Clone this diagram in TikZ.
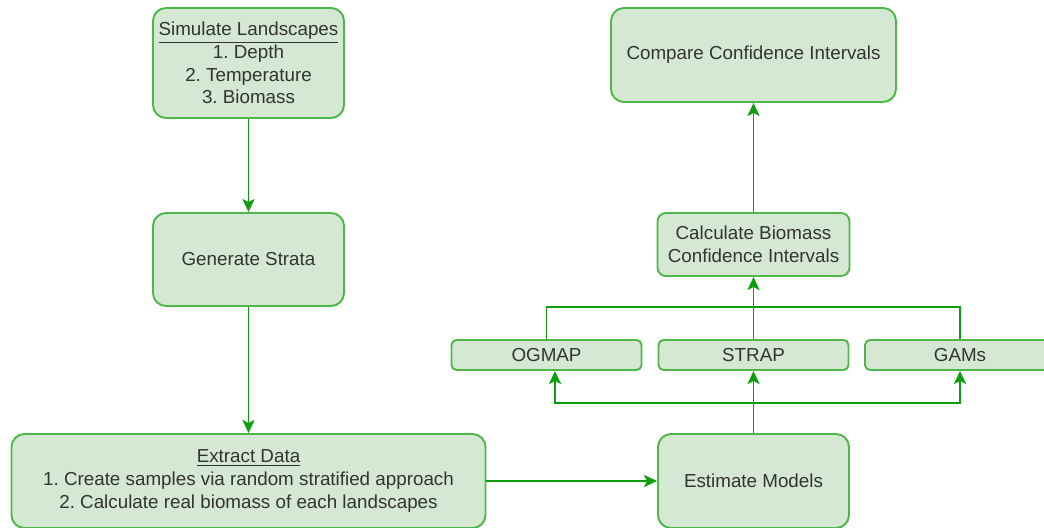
\documentclass[tikz,border=0pt]{standalone}
\usepackage{fontspec}
\setmainfont{Liberation Sans}
\usepackage{tikz}
\usetikzlibrary{arrows.meta, calc}
\definecolor{boxfill}{HTML}{D5E8D4}
\definecolor{boxline}{HTML}{4DB847}
\definecolor{flowcol}{HTML}{0C9E0C}
\definecolor{txtcol}{HTML}{333333}
\frenchspacing

\begin{document}
\begin{tikzpicture}[
    box/.style={draw=boxline, fill=boxfill, line width=1.1pt, rounded corners=0.26cm,
                inner sep=0pt, align=center, text=txtcol,
                font=\fontsize{10.7}{12.9}\selectfont},
    smallbox/.style={box, rounded corners=0.1cm, minimum width=3.8cm,
                     minimum height=0.6cm},
    flow/.style={-{Stealth[length=0.26cm, width=0.24cm, inset=0.06cm]},
                 line width=1.1pt, flowcol},
    bus/.style={line width=1.1pt, flowcol},
  ]

  \useasboundingbox (0,0) rectangle (20.88,10.54);

  % =========================================================
  %  LEFT COLUMN — landscapes, strata, data
  % =========================================================
  \node[box, minimum width=3.82cm, minimum height=2.2cm] (sim) at (4.97,9.28)
    {\underline{Simulate Landscapes}\\1. Depth\\2. Temperature\\3. Biomass};
  \node[box, minimum width=3.82cm, minimum height=1.86cm] (gen) at (4.97,5.35)
    {Generate Strata};
  \node[box, minimum width=9.48cm, minimum height=1.88cm] (ext) at (4.97,0.92)
    {\underline{Extract Data}\\1. Create samples via random stratified approach\\
     2. Calculate real biomass of each landscapes};

  \draw[flow] (sim) -- (gen);
  \draw[flow] (gen) -- (ext);

  % =========================================================
  %  RIGHT COLUMN — models and intervals
  % =========================================================
  \node[box, minimum width=3.82cm, minimum height=1.88cm] (est) at (15.07,0.92)
    {Estimate Models};
  \node[smallbox] (ogmap) at (10.93,3.44) {OGMAP};
  \node[smallbox] (strap) at (15.07,3.44) {STRAP};
  \node[smallbox] (gams)  at (19.2,3.44)  {GAMs};
  \node[box, rounded corners=0.17cm, minimum width=3.84cm, minimum height=1.26cm]
    (calc) at (15.07,5.65) {Calculate Biomass\\Confidence Intervals};
  \node[box, minimum width=5.7cm, minimum height=1.88cm] (cmp) at (15.07,9.44)
    {Compare Confidence Intervals};

  \draw[flow] (ext) -- (est);

  % split from the models to the three estimators
  \coordinate (split) at (15.07,2.48);
  \draw[bus] (est.north) -- (split);
  \draw[flow] (split) -- (strap.south);
  \draw[flow] (split) -| ([xshift=0.17cm]ogmap.south);
  \draw[flow] (split) -| (gams.south);

  % merge of the estimators into the intervals
  \coordinate (merge) at (15.07,4.4);
  \draw[bus] (ogmap.north) |- (merge) -| (gams.north);
  \draw[flow] (strap.north) -- (calc.south);
  \draw[flow] (calc) -- (cmp);

\end{tikzpicture}
\end{document}
